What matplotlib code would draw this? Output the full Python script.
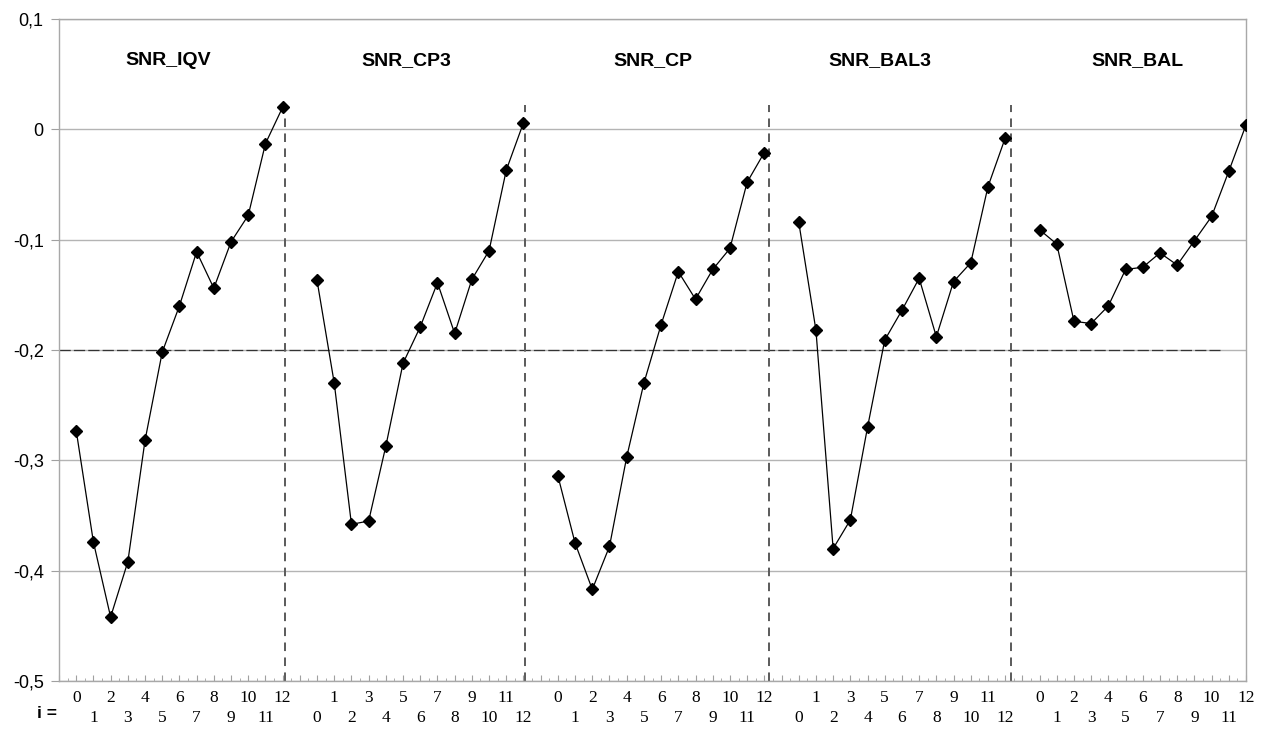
import numpy as np
import matplotlib
matplotlib.use("Agg")
import matplotlib.pyplot as plt
from matplotlib.ticker import FixedLocator, FuncFormatter

# ---- data ----
series_names = ["SNR_IQV", "SNR_CP3", "SNR_CP", "SNR_BAL3", "SNR_BAL"]
i_values = list(range(13))
snr_iqv = [-0.273, -0.374, -0.442, -0.392, -0.282, -0.202, -0.160, -0.111, -0.144, -0.102, -0.078, -0.013, 0.020]
snr_cp3 = [-0.137, -0.230, -0.358, -0.355, -0.287, -0.212, -0.179, -0.139, -0.185, -0.136, -0.110, -0.037, 0.006]
snr_cp = [-0.314, -0.375, -0.417, -0.378, -0.297, -0.230, -0.177, -0.129, -0.154, -0.127, -0.108, -0.048, -0.021]
snr_bal3 = [-0.084, -0.182, -0.380, -0.354, -0.270, -0.191, -0.164, -0.135, -0.188, -0.138, -0.121, -0.052, -0.008]
snr_bal = [-0.091, -0.104, -0.174, -0.176, -0.160, -0.127, -0.125, -0.112, -0.123, -0.101, -0.079, -0.038, 0.004]
all_series = [snr_iqv, snr_cp3, snr_cp, snr_bal3, snr_bal]
threshold = -0.2
y_ticks = [0.1, 0.0, -0.1, -0.2, -0.3, -0.4, -0.5]

# ---- layout ----
group_step = 14          # 13 points + one empty slot
sep_positions = [12.15, 26.1, 40.3, 54.35]
title_positions = [5.35, 19.2, 33.5, 46.7, 61.7]

plt.rcParams['font.family'] = ['Liberation Sans', 'DejaVu Sans']

fig = plt.figure(figsize=(12.65, 7.29), dpi=100)
ax = fig.add_axes([59 / 1265, 1 - 681 / 729, (1246 - 59) / 1265, (681 - 19) / 729])

ax.set_xlim(-1, 68)
ax.set_ylim(-0.5, 0.1)

# gridlines
for yv in y_ticks:
    ax.axhline(yv, color="#b4b4b4", lw=1.0, zorder=0)

# threshold dashed line
ax.plot([-1, 66.5], [threshold, threshold], color="#333333", lw=0.9,
        linestyle=(0, (9, 2.5)), zorder=1)

# separators
for sx in sep_positions:
    ax.plot([sx, sx], [-0.5, 0.022], color="#5a5a5a", lw=1.4,
            linestyle=(0, (4.4, 3.3)), zorder=1)

# series
tick_pos = []
tick_lab = []
for g, (name, vals) in enumerate(zip(series_names, all_series)):
    x = g * group_step + np.array(i_values)
    ax.plot(x, vals, color="black", lw=0.9, marker="D", ms=6.6,
            markerfacecolor="black", markeredgecolor="black", zorder=3)
    ax.text(title_positions[g], 0.062, name, ha="center", va="center",
            fontsize=14, fontweight="bold")
    for k, xv in zip(i_values, x):
        tick_pos.append(xv)
        lab = str(k)
        if (k + g) % 2 == 1:
            lab = "\n" + lab
        tick_lab.append(lab)

# x axis ticks
ax.xaxis.set_major_locator(FixedLocator(np.arange(-1, 69)))
ax.xaxis.set_minor_locator(FixedLocator(np.arange(-0.5, 68, 1.0)))
ax.tick_params(axis="x", which="major", direction="in", length=4.5, color="#a0a0a0",
               labelbottom=False)
ax.tick_params(axis="x", which="minor", direction="in", length=2.5, color="#a0a0a0")
for xv, lab in zip(tick_pos, tick_lab):
    ax.annotate(lab, xy=(xv, 0), xycoords=("data", "axes fraction"),
                xytext=(0, -6.5), textcoords="offset points",
                ha="center", va="top", fontsize=12.5, family="Liberation Serif",
                linespacing=1.33, annotation_clip=False)

# y axis ticks
ax.set_yticks(y_ticks)
ax.yaxis.set_major_formatter(FuncFormatter(
    lambda v, p: "0" if abs(v) < 1e-9 else ("%.1f" % v).replace(".", ",")))
ax.tick_params(axis="y", direction="out", length=6, color="#a0a0a0", labelsize=13, pad=5)

for sp in ax.spines.values():
    sp.set_color("#a8a8a8")
    sp.set_linewidth(1.0)

fig.text(47 / 1265, 1 - 713 / 729, "i =", ha="center", va="center",
         fontsize=12.5, fontweight="bold")

fig.savefig("out.png", dpi=100)
